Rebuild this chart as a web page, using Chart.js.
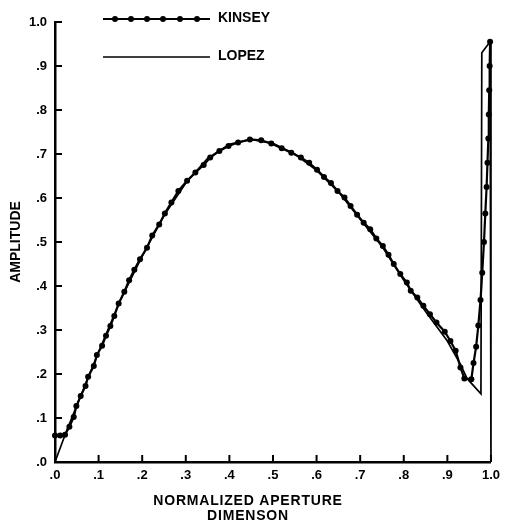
<!DOCTYPE html>
<html>
<head>
<meta charset="utf-8">
<script src="https://cdn.jsdelivr.net/npm/chart.js@4/dist/chart.umd.min.js"></script>
<style>
html,body{margin:0;padding:0;background:#fff;}
#wrap{width:506px;height:524px;position:relative;}
</style>
</head>
<body>
<div id="wrap"><canvas id="c" width="506" height="524"></canvas></div>
<script>
const seriesNames = ['KINSEY', 'LOPEZ'];
const kinseyX = [0.000,0.012,0.023,0.033,0.043,0.049,0.059,0.070,0.076,0.089,0.096,0.108,0.117,0.127,0.136,0.146,0.159,0.170,0.182,0.195,0.211,0.223,0.239,0.252,0.267,0.283,0.303,0.322,0.341,0.356,0.377,0.398,0.420,0.447,0.473,0.496,0.520,0.542,0.564,0.583,0.601,0.617,0.633,0.648,0.664,0.678,0.693,0.708,0.723,0.737,0.752,0.765,0.777,0.792,0.807,0.816,0.831,0.845,0.860,0.875,0.894,0.907,0.919,0.930,0.939,0.955,0.960,0.966,0.971,0.976,0.980,0.984,0.987,0.990,0.992,0.994,0.995,0.996,0.997,0.998];
const kinseyY = [0.060,0.060,0.062,0.080,0.102,0.127,0.150,0.173,0.194,0.218,0.243,0.264,0.287,0.309,0.332,0.360,0.387,0.413,0.437,0.461,0.487,0.515,0.540,0.565,0.590,0.616,0.639,0.658,0.675,0.692,0.707,0.718,0.726,0.733,0.731,0.724,0.713,0.703,0.692,0.680,0.664,0.648,0.634,0.616,0.601,0.582,0.562,0.544,0.529,0.508,0.491,0.471,0.450,0.427,0.408,0.389,0.374,0.355,0.336,0.317,0.296,0.275,0.253,0.215,0.190,0.188,0.225,0.262,0.310,0.368,0.430,0.500,0.565,0.625,0.680,0.735,0.790,0.845,0.900,0.955];
const lopezX = [0.000,0.027,0.050,0.100,0.150,0.200,0.250,0.300,0.350,0.400,0.450,0.500,0.550,0.600,0.650,0.700,0.750,0.800,0.850,0.900,0.930,0.945,0.977,0.979,0.998,1.000];
const lopezY = [0.000,0.072,0.128,0.250,0.368,0.468,0.560,0.634,0.690,0.722,0.733,0.724,0.700,0.663,0.614,0.552,0.490,0.413,0.342,0.275,0.222,0.190,0.155,0.930,0.955,0.000];
const xTickLabels = ['.0','.1','.2','.3','.4','.5','.6','.7','.8','.9','1.0'];
const yTickLabels = ['.0','.1','.2','.3','.4','.5','.6','.7','.8','.9','1.0'];
const xTitle = ['NORMALIZED APERTURE', 'DIMENSON'];
const yTitle = 'AMPLITUDE';

const toPts = (xs, ys) => xs.map((x, i) => ({x: x, y: ys[i]}));
const FONT = '"Liberation Sans", Arial, sans-serif';

const inwardTicks = {
  id: 'inwardTicks',
  afterDraw(chart) {
    const ctx = chart.ctx, xs = chart.scales.x, ys = chart.scales.y;
    ctx.save();
    ctx.strokeStyle = '#000';
    ctx.lineWidth = 2;
    ctx.beginPath();
    xs.ticks.forEach(t => {
      const px = xs.getPixelForValue(t.value);
      ctx.moveTo(px, ys.bottom);
      ctx.lineTo(px, ys.bottom - 7);
    });
    ys.ticks.forEach(t => {
      const py = ys.getPixelForValue(t.value);
      ctx.moveTo(xs.left, py);
      ctx.lineTo(xs.left + 7, py);
    });
    ctx.stroke();
    ctx.restore();
  }
};

const textPlugin = {
  id: 'customText',
  afterDraw(chart) {
    const ctx = chart.ctx;
    ctx.save();
    ctx.strokeStyle = '#000';
    ctx.fillStyle = '#000';
    // legend: KINSEY
    ctx.lineWidth = 2.2;
    ctx.beginPath(); ctx.moveTo(103, 19); ctx.lineTo(210, 19); ctx.stroke();
    [115, 131, 147, 163, 180, 197].forEach(x => {
      ctx.beginPath(); ctx.arc(x, 19, 3, 0, Math.PI * 2); ctx.fill();
    });
    // legend: LOPEZ
    ctx.lineWidth = 1.6;
    ctx.beginPath(); ctx.moveTo(103, 57); ctx.lineTo(210, 57); ctx.stroke();
    ctx.font = 'bold 14px ' + FONT;
    ctx.textBaseline = 'middle';
    ctx.textAlign = 'left';
    ctx.fillText(seriesNames[0], 218, 18);
    ctx.fillText(seriesNames[1], 218, 56);
    // x axis title
    ctx.textAlign = 'center';
    ctx.letterSpacing = '0.8px';
    ctx.fillText(xTitle[0], 248, 501);
    ctx.fillText(xTitle[1], 248, 516);
    ctx.restore();
  }
};

new Chart(document.getElementById('c'), {
  type: 'scatter',
  data: {
    datasets: [
      {
        label: seriesNames[0],
        data: toPts(kinseyX, kinseyY),
        showLine: true,
        borderColor: '#000',
        backgroundColor: '#000',
        borderWidth: 2.2,
        pointRadius: 3,
        pointBorderWidth: 0,
        pointHoverRadius: 3,
        tension: 0,
        clip: false
      },
      {
        label: seriesNames[1],
        data: toPts(lopezX, lopezY),
        showLine: true,
        borderColor: '#000',
        backgroundColor: '#000',
        borderWidth: 1.7,
        pointRadius: 0,
        tension: 0,
        clip: false
      }
    ]
  },
  options: {
    responsive: false,
    animation: false,
    devicePixelRatio: 1,
    layout: { padding: { top: 22, right: 11, left: 0, bottom: 0 } },
    plugins: { legend: { display: false }, tooltip: { enabled: false } },
    scales: {
      x: {
        type: 'linear', min: 0, max: 1,
        afterFit(s) { s.height = 62; },
        afterBuildTicks(s) { s.ticks = xTickLabels.map((l, i) => ({ value: i / 10 })); },
        grid: { display: false, drawTicks: false },
        border: { display: true, color: '#000', width: 2.5 },
        ticks: {
          color: '#000', padding: 6, maxRotation: 0, autoSkip: false,
          font: { family: FONT, size: 13, weight: 'bold' },
          callback: (v, i) => xTickLabels[i]
        },
        title: { display: false }
      },
      y: {
        type: 'linear', min: 0, max: 1,
        afterFit(s) { s.width = 55; },
        afterBuildTicks(s) { s.ticks = yTickLabels.map((l, i) => ({ value: i / 10 })); },
        grid: { display: false, drawTicks: false },
        border: { display: true, color: '#000', width: 2.5 },
        ticks: {
          color: '#000', padding: 8, autoSkip: false,
          font: { family: FONT, size: 13, weight: 'bold' },
          callback: (v, i) => yTickLabels[i]
        },
        title: {
          display: true, text: yTitle, color: '#000',
          font: { family: FONT, size: 14, weight: 'bold' },
          padding: { top: 8, bottom: 0 }
        }
      }
    }
  },
  plugins: [inwardTicks, textPlugin]
});
</script>
</body>
</html>
